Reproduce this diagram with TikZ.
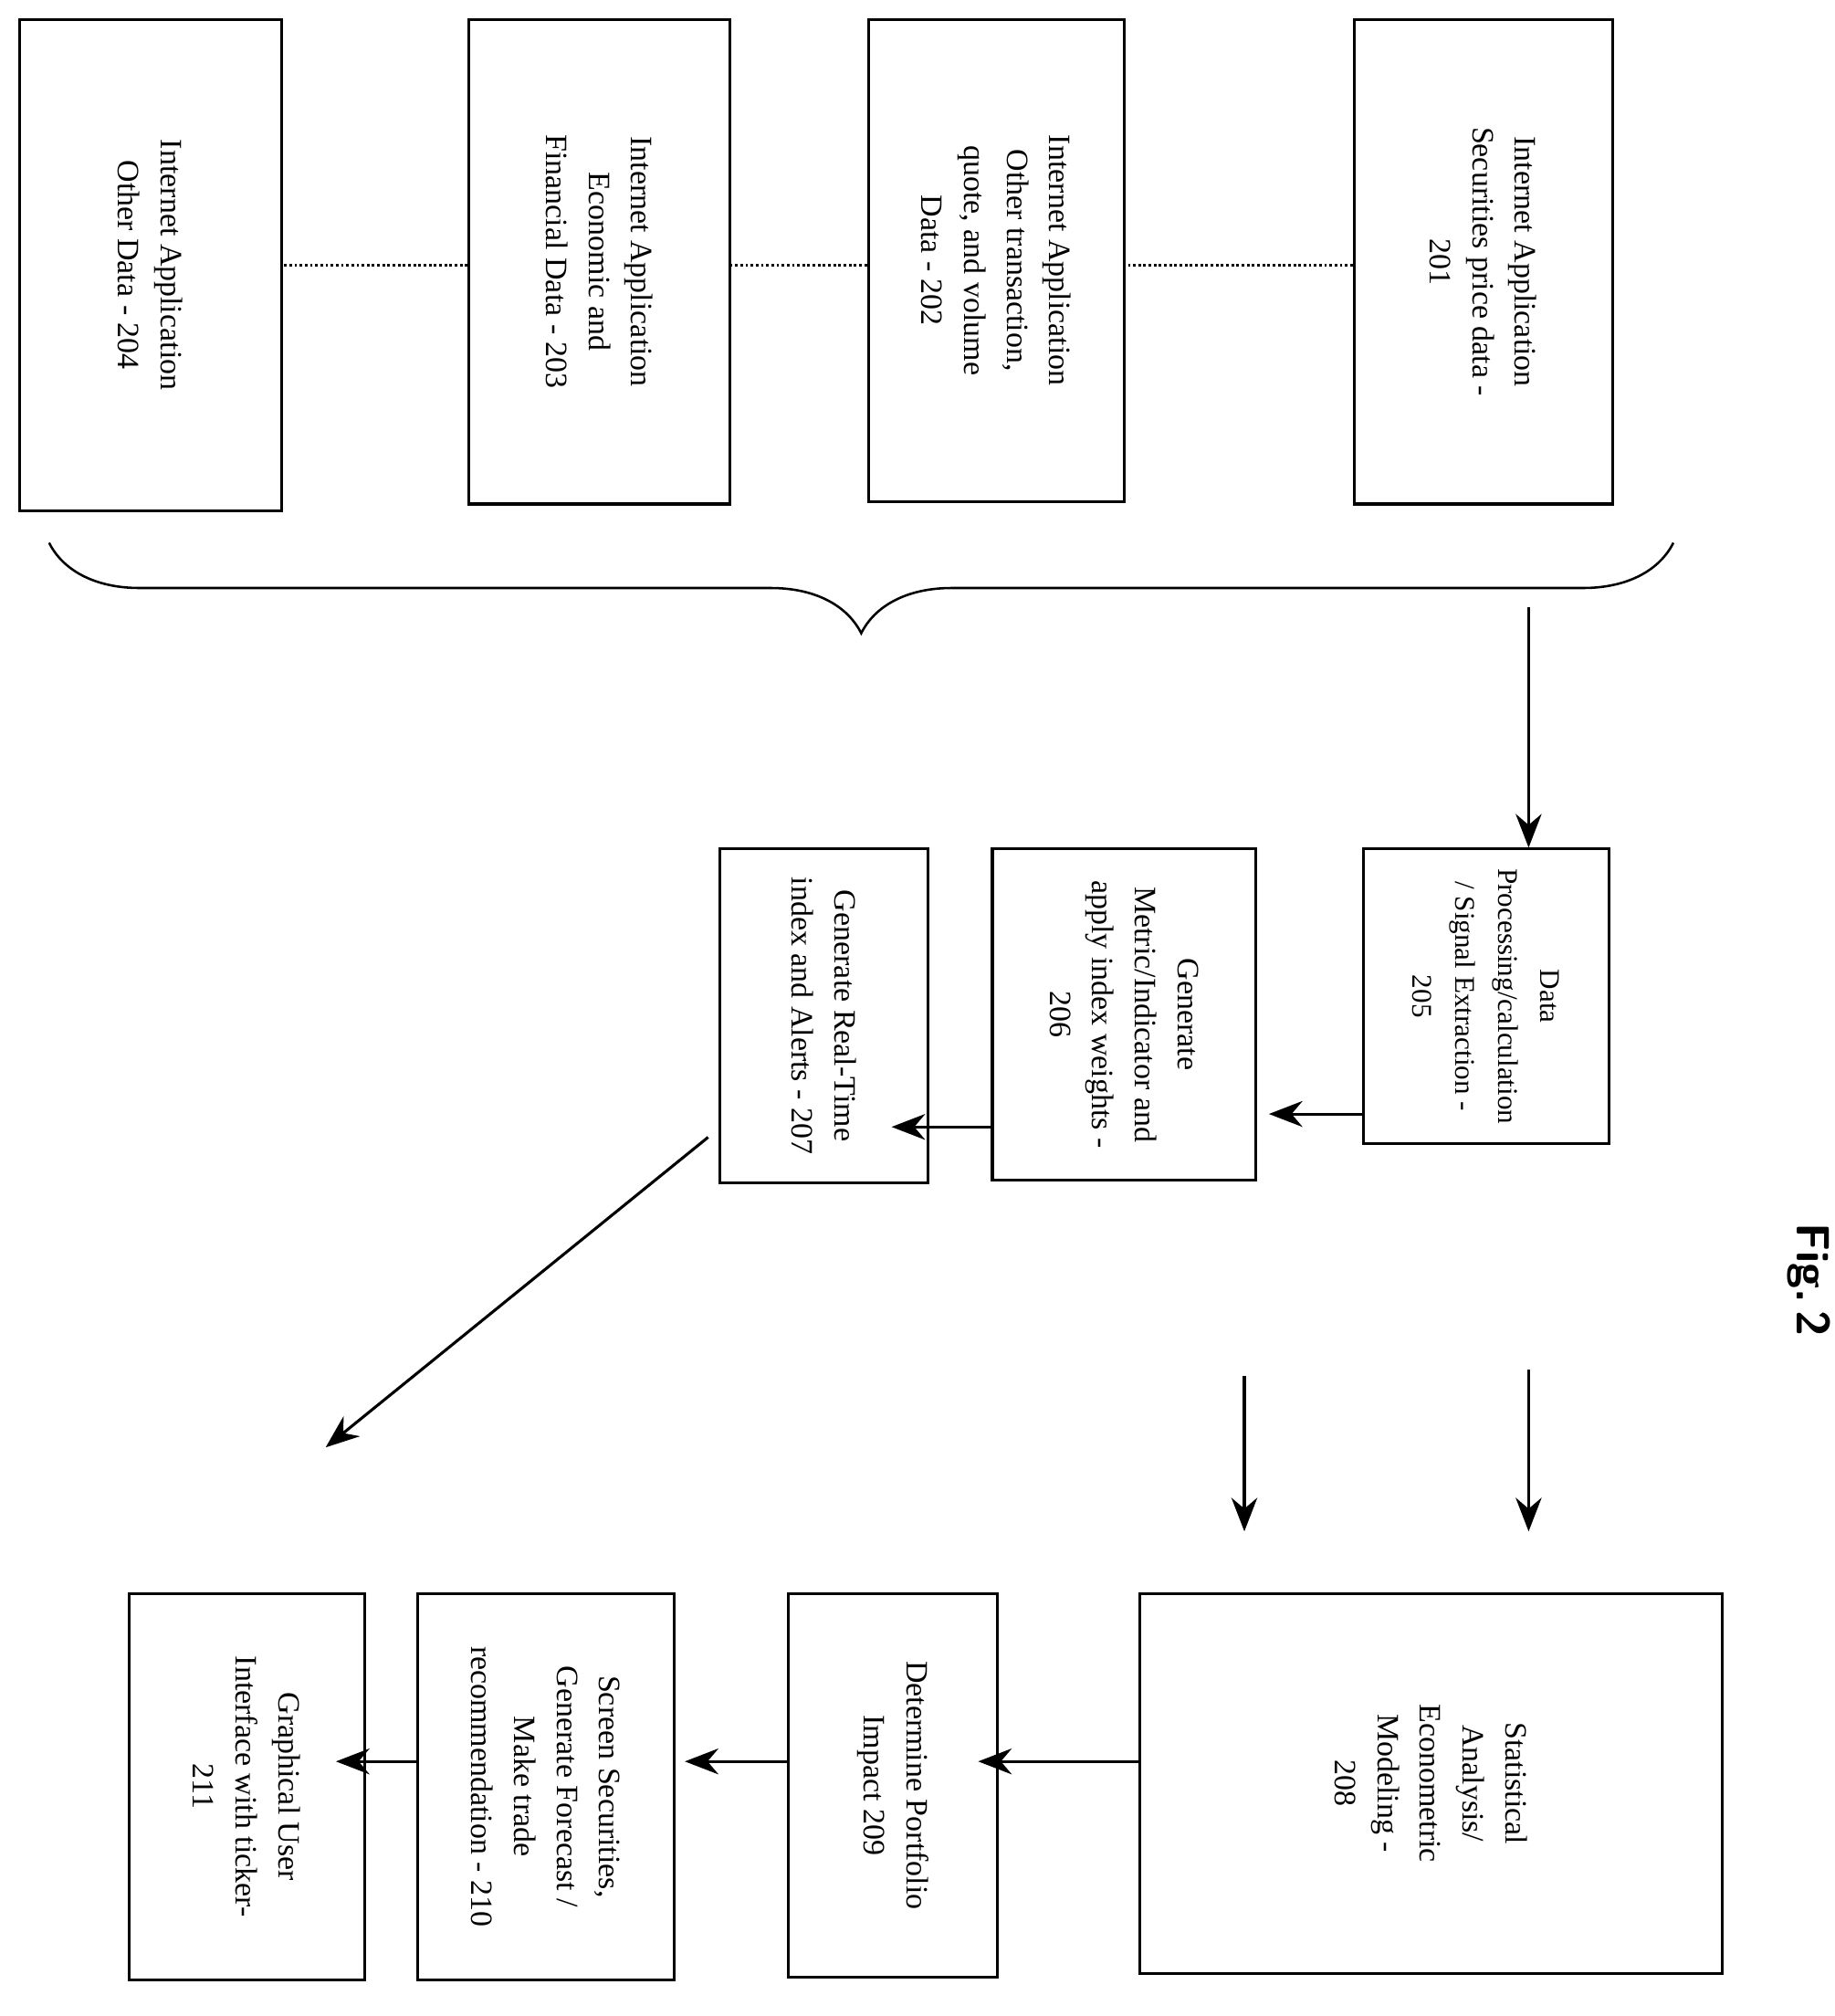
\documentclass[tikz,border=0pt]{standalone}
\usepackage{fontspec}
\setmainfont{Liberation Serif}
\usetikzlibrary{arrows.meta,decorations.pathreplacing}
\begin{document}
\begin{tikzpicture}[x=1pt,y=-1pt,line width=2.2pt,
  box/.style={draw,inner sep=0pt},
  txt/.style={rotate=-90,align=center,font=\fontsize{24}{33}\selectfont},
  arr/.style={-{Stealth[length=26pt,width=20pt]}},
  dots/.style={dotted,line width=2pt}]
\useasboundingbox (0,0) rectangle (1420,1560);
\newcommand\bx[6]{\node[box,minimum width={#4-#2},minimum height={#5-#3}] (#1) at ({(#2+#4)/2},{(#3+#5)/2}) {};
  \node[txt] (#1t) at (#1.center) {#6};}
\bx{b201}{1048}{15}{1248}{390}{Internet Application\\Securities price data -\\201}
\bx{b202}{672}{15}{870}{388}{Internet Application\\Other transaction,\\quote, and volume\\Data - 202}
\bx{b203}{363}{15}{565}{390}{Internet Application\\Economic and\\Financial Data - 203}
\bx{b204}{15}{15}{218}{395}{Internet Application\\Other Data - 204}
\draw[dots] (b201.west |- 0,205) -- (b202.east |- 0,205);
\draw[dots] (b202.west |- 0,205) -- (b203.east |- 0,205);
\draw[dots] (b203.west |- 0,205) -- (b204.east |- 0,205);
\coordinate (br1) at (1295,420);
\coordinate (br2) at (38,420);
\draw[decorate,decoration={brace,amplitude=70pt},line width=1.8pt] (br1) -- (br2);
\node[box,minimum width=190,minimum height=228] (b205) at (1150,771) {};
\node[txt,font=\fontsize{22}{33}\selectfont] (b205t) at (b205.center) {Data\\Processing/calculation\\/ Signal Extraction -\\205};
\bx{b206}{768}{657}{972}{913}{Generate\\Metric/Indicator and\\apply index weights -\\206}
\bx{b207}{557}{657}{718}{915}{Generate Real-Time\\index and Alerts - 207}
\bx{b208}{882}{1233}{1333}{1527}{Statistical\\Analysis/\\Econometric\\Modeling -\\208}
\bx{b209}{610}{1233}{772}{1530}{Determine Portfolio\\Impact 209}
\bx{b210}{323}{1233}{522}{1532}{Screen Securities,\\Generate Forecast /\\Make trade\\recommendation - 210}
\bx{b211}{100}{1233}{282}{1532}{Graphical User\\Interface with ticker-\\211}
\coordinate (a0) at (1183,470);
\draw[arr] (a0) -- (a0 |- b205.north);
\draw[arr] (b205.west |- 0,862) -- (982,862);
\draw[arr] (b206.west |- 0,872) -- (690,872);
\draw[arr] (1183,1060) -- (1183,1185);
\draw[arr] (963,1065) -- (963,1185);
\draw[arr] (b208.west |- 0,1363) -- (757,1363);
\draw[arr] (b209.west |- 0,1363) -- (530,1363);
\draw[arr] (b210.west |- 0,1363) -- (260,1363);
\draw[arr] (548,880) -- (252,1120);
\node[rotate=-90,font=\sffamily\bfseries\fontsize{36}{40}\selectfont] (fig) at (1400,990) {Fig.\,2};
\end{tikzpicture}
\end{document}
